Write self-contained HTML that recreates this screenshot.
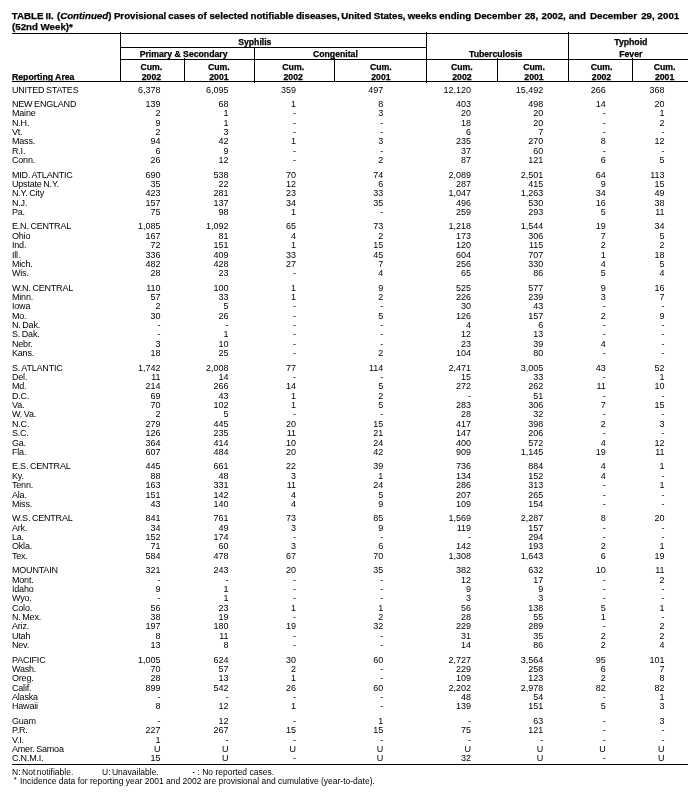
<!DOCTYPE html>
<html lang="en">
<head>
<meta charset="utf-8">
<title>TABLE II. (Continued) Provisional cases of selected notifiable diseases</title>
<style>
html,body{margin:0;padding:0;background:#fff;}
body{width:699px;height:798px;position:relative;overflow:hidden;font-family:"Liberation Sans",Arial,Helvetica,sans-serif;color:#000;}
.t{position:absolute;left:12px;white-space:nowrap;font-weight:bold;font-size:9.72px;line-height:12px;letter-spacing:0px;}
.tt,.t,.h{-webkit-text-stroke:0.25px #000;}
.tt{position:absolute;left:0;width:699px;height:12px;white-space:nowrap;font-weight:bold;font-size:9.72px;line-height:12px;}
.tt span{position:absolute;top:0;}
.h{position:absolute;white-space:nowrap;font-weight:bold;font-size:8.7px;line-height:10px;text-align:center;width:120px;}
.hl{position:absolute;background:#000;height:1px;}
.vl{position:absolute;background:#000;width:1px;}
.r{position:absolute;left:0;width:699px;height:10px;line-height:10px;font-size:9px;white-space:nowrap;}
.r span{position:absolute;top:0;}
.a{left:12px;word-spacing:-0.6px;letter-spacing:-0.2px;font-size:9px;}
.c{width:60px;text-align:right;}
.c1{left:100.50px;}
.c2{left:168.50px;}
.c3{left:236.00px;}
.c4{left:323.25px;}
.c5{left:411.00px;}
.c6{left:483.25px;}
.c7{left:545.75px;}
.c8{left:604.50px;}
.f{position:absolute;white-space:nowrap;font-size:8.5px;line-height:10px;}
</style>
</head>
<body>
<div class="tt" style="top:9.64px"><span style="left:11.7px">TABLE</span> <span style="left:45.6px">II.</span> <span style="left:56.9px">(<i>Continued</i>)</span> <span style="left:113.9px">Provisional</span> <span style="left:168.3px">cases</span> <span style="left:197.6px">of</span> <span style="left:209.4px">selected</span> <span style="left:250.5px">notifiable</span> <span style="left:295.9px">diseases,</span> <span style="left:341.2px">United</span> <span style="left:373.7px">States,</span> <span style="left:407.7px">weeks</span> <span style="left:439.3px">ending</span> <span style="left:474.2px">December</span> <span style="left:524.7px">28,</span> <span style="left:541.5px">2002,</span> <span style="left:568.7px">and</span> <span style="left:590.0px">December</span> <span style="left:641.2px">29,</span> <span style="left:657.6px">2001</span></div>
<div class="t" style="top:20.94px">(52nd Week)*</div>
<div class="hl" style="left:12px;top:33px;width:676px"></div>
<div class="hl" style="left:120px;top:47px;width:307px"></div>
<div class="hl" style="left:120px;top:59px;width:568px"></div>
<div class="hl" style="left:12px;top:81px;width:676px"></div>
<div class="hl" style="left:12px;top:764px;width:676px"></div>
<div class="vl" style="left:120px;top:32px;height:50px"></div>
<div class="vl" style="left:184px;top:58px;height:24px"></div>
<div class="vl" style="left:254px;top:47px;height:36px"></div>
<div class="vl" style="left:334px;top:58px;height:24px"></div>
<div class="vl" style="left:426px;top:32px;height:51px"></div>
<div class="vl" style="left:497px;top:58px;height:24px"></div>
<div class="vl" style="left:568px;top:32px;height:50px"></div>
<div class="vl" style="left:632px;top:58px;height:24px"></div>
<div class="h" style="left:194.80px;top:36.50px">Syphilis</div>
<div class="h" style="left:123.60px;top:49.00px">Primary &amp; Secondary</div>
<div class="h" style="left:275.40px;top:49.00px">Congenital</div>
<div class="h" style="left:435.70px;top:49.00px">Tuberculosis</div>
<div class="h" style="left:570.80px;top:36.50px">Typhoid</div>
<div class="h" style="left:570.80px;top:49.00px">Fever</div>
<div class="h" style="left:91.40px;top:61.50px">Cum.</div>
<div class="h" style="left:91.40px;top:71.50px">2002</div>
<div class="h" style="left:158.90px;top:61.50px">Cum.</div>
<div class="h" style="left:158.90px;top:71.50px">2001</div>
<div class="h" style="left:233.20px;top:61.50px">Cum.</div>
<div class="h" style="left:233.20px;top:71.50px">2002</div>
<div class="h" style="left:320.90px;top:61.50px">Cum.</div>
<div class="h" style="left:320.90px;top:71.50px">2001</div>
<div class="h" style="left:401.90px;top:61.50px">Cum.</div>
<div class="h" style="left:401.90px;top:71.50px">2002</div>
<div class="h" style="left:474.00px;top:61.50px">Cum.</div>
<div class="h" style="left:474.00px;top:71.50px">2001</div>
<div class="h" style="left:541.50px;top:61.50px">Cum.</div>
<div class="h" style="left:541.50px;top:71.50px">2002</div>
<div class="h" style="left:604.60px;top:61.50px">Cum.</div>
<div class="h" style="left:604.60px;top:71.50px">2001</div>
<div class="h" style="left:12px;top:71.50px;width:auto;text-align:left">Reporting Area</div>
<div class="r" style="top:85.00px"><span class="a">UNITED STATES</span><span class="c c1">6,378</span><span class="c c2">6,095</span><span class="c c3">359</span><span class="c c4">497</span><span class="c c5">12,120</span><span class="c c6">15,492</span><span class="c c7">266</span><span class="c c8">368</span></div>
<div class="r" style="top:99.00px"><span class="a">NEW ENGLAND</span><span class="c c1">139</span><span class="c c2">68</span><span class="c c3">1</span><span class="c c4">8</span><span class="c c5">403</span><span class="c c6">498</span><span class="c c7">14</span><span class="c c8">20</span></div>
<div class="r" style="top:108.00px"><span class="a">Maine</span><span class="c c1">2</span><span class="c c2">1</span><span class="c c3">-</span><span class="c c4">3</span><span class="c c5">20</span><span class="c c6">20</span><span class="c c7">-</span><span class="c c8">1</span></div>
<div class="r" style="top:118.00px"><span class="a">N.H.</span><span class="c c1">9</span><span class="c c2">1</span><span class="c c3">-</span><span class="c c4">-</span><span class="c c5">18</span><span class="c c6">20</span><span class="c c7">-</span><span class="c c8">2</span></div>
<div class="r" style="top:127.00px"><span class="a">Vt.</span><span class="c c1">2</span><span class="c c2">3</span><span class="c c3">-</span><span class="c c4">-</span><span class="c c5">6</span><span class="c c6">7</span><span class="c c7">-</span><span class="c c8">-</span></div>
<div class="r" style="top:136.00px"><span class="a">Mass.</span><span class="c c1">94</span><span class="c c2">42</span><span class="c c3">1</span><span class="c c4">3</span><span class="c c5">235</span><span class="c c6">270</span><span class="c c7">8</span><span class="c c8">12</span></div>
<div class="r" style="top:146.00px"><span class="a">R.I.</span><span class="c c1">6</span><span class="c c2">9</span><span class="c c3">-</span><span class="c c4">-</span><span class="c c5">37</span><span class="c c6">60</span><span class="c c7">-</span><span class="c c8">-</span></div>
<div class="r" style="top:155.00px"><span class="a">Conn.</span><span class="c c1">26</span><span class="c c2">12</span><span class="c c3">-</span><span class="c c4">2</span><span class="c c5">87</span><span class="c c6">121</span><span class="c c7">6</span><span class="c c8">5</span></div>
<div class="r" style="top:170.00px"><span class="a">MID. ATLANTIC</span><span class="c c1">690</span><span class="c c2">538</span><span class="c c3">70</span><span class="c c4">74</span><span class="c c5">2,089</span><span class="c c6">2,501</span><span class="c c7">64</span><span class="c c8">113</span></div>
<div class="r" style="top:179.00px"><span class="a">Upstate N.Y.</span><span class="c c1">35</span><span class="c c2">22</span><span class="c c3">12</span><span class="c c4">6</span><span class="c c5">287</span><span class="c c6">415</span><span class="c c7">9</span><span class="c c8">15</span></div>
<div class="r" style="top:188.00px"><span class="a">N.Y. City</span><span class="c c1">423</span><span class="c c2">281</span><span class="c c3">23</span><span class="c c4">33</span><span class="c c5">1,047</span><span class="c c6">1,263</span><span class="c c7">34</span><span class="c c8">49</span></div>
<div class="r" style="top:198.00px"><span class="a">N.J.</span><span class="c c1">157</span><span class="c c2">137</span><span class="c c3">34</span><span class="c c4">35</span><span class="c c5">496</span><span class="c c6">530</span><span class="c c7">16</span><span class="c c8">38</span></div>
<div class="r" style="top:207.00px"><span class="a">Pa.</span><span class="c c1">75</span><span class="c c2">98</span><span class="c c3">1</span><span class="c c4">-</span><span class="c c5">259</span><span class="c c6">293</span><span class="c c7">5</span><span class="c c8">11</span></div>
<div class="r" style="top:221.00px"><span class="a">E.N. CENTRAL</span><span class="c c1">1,085</span><span class="c c2">1,092</span><span class="c c3">65</span><span class="c c4">73</span><span class="c c5">1,218</span><span class="c c6">1,544</span><span class="c c7">19</span><span class="c c8">34</span></div>
<div class="r" style="top:231.00px"><span class="a">Ohio</span><span class="c c1">167</span><span class="c c2">81</span><span class="c c3">4</span><span class="c c4">2</span><span class="c c5">173</span><span class="c c6">306</span><span class="c c7">7</span><span class="c c8">5</span></div>
<div class="r" style="top:240.00px"><span class="a">Ind.</span><span class="c c1">72</span><span class="c c2">151</span><span class="c c3">1</span><span class="c c4">15</span><span class="c c5">120</span><span class="c c6">115</span><span class="c c7">2</span><span class="c c8">2</span></div>
<div class="r" style="top:250.00px"><span class="a">Ill.</span><span class="c c1">336</span><span class="c c2">409</span><span class="c c3">33</span><span class="c c4">45</span><span class="c c5">604</span><span class="c c6">707</span><span class="c c7">1</span><span class="c c8">18</span></div>
<div class="r" style="top:259.00px"><span class="a">Mich.</span><span class="c c1">482</span><span class="c c2">428</span><span class="c c3">27</span><span class="c c4">7</span><span class="c c5">256</span><span class="c c6">330</span><span class="c c7">4</span><span class="c c8">5</span></div>
<div class="r" style="top:268.00px"><span class="a">Wis.</span><span class="c c1">28</span><span class="c c2">23</span><span class="c c3">-</span><span class="c c4">4</span><span class="c c5">65</span><span class="c c6">86</span><span class="c c7">5</span><span class="c c8">4</span></div>
<div class="r" style="top:283.00px"><span class="a">W.N. CENTRAL</span><span class="c c1">110</span><span class="c c2">100</span><span class="c c3">1</span><span class="c c4">9</span><span class="c c5">525</span><span class="c c6">577</span><span class="c c7">9</span><span class="c c8">16</span></div>
<div class="r" style="top:292.00px"><span class="a">Minn.</span><span class="c c1">57</span><span class="c c2">33</span><span class="c c3">1</span><span class="c c4">2</span><span class="c c5">226</span><span class="c c6">239</span><span class="c c7">3</span><span class="c c8">7</span></div>
<div class="r" style="top:301.00px"><span class="a">Iowa</span><span class="c c1">2</span><span class="c c2">5</span><span class="c c3">-</span><span class="c c4">-</span><span class="c c5">30</span><span class="c c6">43</span><span class="c c7">-</span><span class="c c8">-</span></div>
<div class="r" style="top:311.00px"><span class="a">Mo.</span><span class="c c1">30</span><span class="c c2">26</span><span class="c c3">-</span><span class="c c4">5</span><span class="c c5">126</span><span class="c c6">157</span><span class="c c7">2</span><span class="c c8">9</span></div>
<div class="r" style="top:320.00px"><span class="a">N. Dak.</span><span class="c c1">-</span><span class="c c2">-</span><span class="c c3">-</span><span class="c c4">-</span><span class="c c5">4</span><span class="c c6">6</span><span class="c c7">-</span><span class="c c8">-</span></div>
<div class="r" style="top:329.00px"><span class="a">S. Dak.</span><span class="c c1">-</span><span class="c c2">1</span><span class="c c3">-</span><span class="c c4">-</span><span class="c c5">12</span><span class="c c6">13</span><span class="c c7">-</span><span class="c c8">-</span></div>
<div class="r" style="top:339.00px"><span class="a">Nebr.</span><span class="c c1">3</span><span class="c c2">10</span><span class="c c3">-</span><span class="c c4">-</span><span class="c c5">23</span><span class="c c6">39</span><span class="c c7">4</span><span class="c c8">-</span></div>
<div class="r" style="top:348.00px"><span class="a">Kans.</span><span class="c c1">18</span><span class="c c2">25</span><span class="c c3">-</span><span class="c c4">2</span><span class="c c5">104</span><span class="c c6">80</span><span class="c c7">-</span><span class="c c8">-</span></div>
<div class="r" style="top:363.00px"><span class="a">S. ATLANTIC</span><span class="c c1">1,742</span><span class="c c2">2,008</span><span class="c c3">77</span><span class="c c4">114</span><span class="c c5">2,471</span><span class="c c6">3,005</span><span class="c c7">43</span><span class="c c8">52</span></div>
<div class="r" style="top:372.00px"><span class="a">Del.</span><span class="c c1">11</span><span class="c c2">14</span><span class="c c3">-</span><span class="c c4">-</span><span class="c c5">15</span><span class="c c6">33</span><span class="c c7">-</span><span class="c c8">1</span></div>
<div class="r" style="top:381.00px"><span class="a">Md.</span><span class="c c1">214</span><span class="c c2">266</span><span class="c c3">14</span><span class="c c4">5</span><span class="c c5">272</span><span class="c c6">262</span><span class="c c7">11</span><span class="c c8">10</span></div>
<div class="r" style="top:391.00px"><span class="a">D.C.</span><span class="c c1">69</span><span class="c c2">43</span><span class="c c3">1</span><span class="c c4">2</span><span class="c c5">-</span><span class="c c6">51</span><span class="c c7">-</span><span class="c c8">-</span></div>
<div class="r" style="top:400.00px"><span class="a">Va.</span><span class="c c1">70</span><span class="c c2">102</span><span class="c c3">1</span><span class="c c4">5</span><span class="c c5">283</span><span class="c c6">306</span><span class="c c7">7</span><span class="c c8">15</span></div>
<div class="r" style="top:409.00px"><span class="a">W. Va.</span><span class="c c1">2</span><span class="c c2">5</span><span class="c c3">-</span><span class="c c4">-</span><span class="c c5">28</span><span class="c c6">32</span><span class="c c7">-</span><span class="c c8">-</span></div>
<div class="r" style="top:419.00px"><span class="a">N.C.</span><span class="c c1">279</span><span class="c c2">445</span><span class="c c3">20</span><span class="c c4">15</span><span class="c c5">417</span><span class="c c6">398</span><span class="c c7">2</span><span class="c c8">3</span></div>
<div class="r" style="top:428.00px"><span class="a">S.C.</span><span class="c c1">126</span><span class="c c2">235</span><span class="c c3">11</span><span class="c c4">21</span><span class="c c5">147</span><span class="c c6">206</span><span class="c c7">-</span><span class="c c8">-</span></div>
<div class="r" style="top:438.00px"><span class="a">Ga.</span><span class="c c1">364</span><span class="c c2">414</span><span class="c c3">10</span><span class="c c4">24</span><span class="c c5">400</span><span class="c c6">572</span><span class="c c7">4</span><span class="c c8">12</span></div>
<div class="r" style="top:447.00px"><span class="a">Fla.</span><span class="c c1">607</span><span class="c c2">484</span><span class="c c3">20</span><span class="c c4">42</span><span class="c c5">909</span><span class="c c6">1,145</span><span class="c c7">19</span><span class="c c8">11</span></div>
<div class="r" style="top:461.00px"><span class="a">E.S. CENTRAL</span><span class="c c1">445</span><span class="c c2">661</span><span class="c c3">22</span><span class="c c4">39</span><span class="c c5">736</span><span class="c c6">884</span><span class="c c7">4</span><span class="c c8">1</span></div>
<div class="r" style="top:471.00px"><span class="a">Ky.</span><span class="c c1">88</span><span class="c c2">48</span><span class="c c3">3</span><span class="c c4">1</span><span class="c c5">134</span><span class="c c6">152</span><span class="c c7">4</span><span class="c c8">-</span></div>
<div class="r" style="top:480.00px"><span class="a">Tenn.</span><span class="c c1">163</span><span class="c c2">331</span><span class="c c3">11</span><span class="c c4">24</span><span class="c c5">286</span><span class="c c6">313</span><span class="c c7">-</span><span class="c c8">1</span></div>
<div class="r" style="top:490.00px"><span class="a">Ala.</span><span class="c c1">151</span><span class="c c2">142</span><span class="c c3">4</span><span class="c c4">5</span><span class="c c5">207</span><span class="c c6">265</span><span class="c c7">-</span><span class="c c8">-</span></div>
<div class="r" style="top:499.00px"><span class="a">Miss.</span><span class="c c1">43</span><span class="c c2">140</span><span class="c c3">4</span><span class="c c4">9</span><span class="c c5">109</span><span class="c c6">154</span><span class="c c7">-</span><span class="c c8">-</span></div>
<div class="r" style="top:513.00px"><span class="a">W.S. CENTRAL</span><span class="c c1">841</span><span class="c c2">761</span><span class="c c3">73</span><span class="c c4">85</span><span class="c c5">1,569</span><span class="c c6">2,287</span><span class="c c7">8</span><span class="c c8">20</span></div>
<div class="r" style="top:523.00px"><span class="a">Ark.</span><span class="c c1">34</span><span class="c c2">49</span><span class="c c3">3</span><span class="c c4">9</span><span class="c c5">119</span><span class="c c6">157</span><span class="c c7">-</span><span class="c c8">-</span></div>
<div class="r" style="top:532.00px"><span class="a">La.</span><span class="c c1">152</span><span class="c c2">174</span><span class="c c3">-</span><span class="c c4">-</span><span class="c c5">-</span><span class="c c6">294</span><span class="c c7">-</span><span class="c c8">-</span></div>
<div class="r" style="top:541.00px"><span class="a">Okla.</span><span class="c c1">71</span><span class="c c2">60</span><span class="c c3">3</span><span class="c c4">6</span><span class="c c5">142</span><span class="c c6">193</span><span class="c c7">2</span><span class="c c8">1</span></div>
<div class="r" style="top:551.00px"><span class="a">Tex.</span><span class="c c1">584</span><span class="c c2">478</span><span class="c c3">67</span><span class="c c4">70</span><span class="c c5">1,308</span><span class="c c6">1,643</span><span class="c c7">6</span><span class="c c8">19</span></div>
<div class="r" style="top:565.00px"><span class="a">MOUNTAIN</span><span class="c c1">321</span><span class="c c2">243</span><span class="c c3">20</span><span class="c c4">35</span><span class="c c5">382</span><span class="c c6">632</span><span class="c c7">10</span><span class="c c8">11</span></div>
<div class="r" style="top:575.00px"><span class="a">Mont.</span><span class="c c1">-</span><span class="c c2">-</span><span class="c c3">-</span><span class="c c4">-</span><span class="c c5">12</span><span class="c c6">17</span><span class="c c7">-</span><span class="c c8">2</span></div>
<div class="r" style="top:584.00px"><span class="a">Idaho</span><span class="c c1">9</span><span class="c c2">1</span><span class="c c3">-</span><span class="c c4">-</span><span class="c c5">9</span><span class="c c6">9</span><span class="c c7">-</span><span class="c c8">-</span></div>
<div class="r" style="top:593.00px"><span class="a">Wyo.</span><span class="c c1">-</span><span class="c c2">1</span><span class="c c3">-</span><span class="c c4">-</span><span class="c c5">3</span><span class="c c6">3</span><span class="c c7">-</span><span class="c c8">-</span></div>
<div class="r" style="top:603.00px"><span class="a">Colo.</span><span class="c c1">56</span><span class="c c2">23</span><span class="c c3">1</span><span class="c c4">1</span><span class="c c5">56</span><span class="c c6">138</span><span class="c c7">5</span><span class="c c8">1</span></div>
<div class="r" style="top:612.00px"><span class="a">N. Mex.</span><span class="c c1">38</span><span class="c c2">19</span><span class="c c3">-</span><span class="c c4">2</span><span class="c c5">28</span><span class="c c6">55</span><span class="c c7">1</span><span class="c c8">-</span></div>
<div class="r" style="top:621.00px"><span class="a">Ariz.</span><span class="c c1">197</span><span class="c c2">180</span><span class="c c3">19</span><span class="c c4">32</span><span class="c c5">229</span><span class="c c6">289</span><span class="c c7">-</span><span class="c c8">2</span></div>
<div class="r" style="top:631.00px"><span class="a">Utah</span><span class="c c1">8</span><span class="c c2">11</span><span class="c c3">-</span><span class="c c4">-</span><span class="c c5">31</span><span class="c c6">35</span><span class="c c7">2</span><span class="c c8">2</span></div>
<div class="r" style="top:640.00px"><span class="a">Nev.</span><span class="c c1">13</span><span class="c c2">8</span><span class="c c3">-</span><span class="c c4">-</span><span class="c c5">14</span><span class="c c6">86</span><span class="c c7">2</span><span class="c c8">4</span></div>
<div class="r" style="top:655.00px"><span class="a">PACIFIC</span><span class="c c1">1,005</span><span class="c c2">624</span><span class="c c3">30</span><span class="c c4">60</span><span class="c c5">2,727</span><span class="c c6">3,564</span><span class="c c7">95</span><span class="c c8">101</span></div>
<div class="r" style="top:664.00px"><span class="a">Wash.</span><span class="c c1">70</span><span class="c c2">57</span><span class="c c3">2</span><span class="c c4">-</span><span class="c c5">229</span><span class="c c6">258</span><span class="c c7">6</span><span class="c c8">7</span></div>
<div class="r" style="top:673.00px"><span class="a">Oreg.</span><span class="c c1">28</span><span class="c c2">13</span><span class="c c3">1</span><span class="c c4">-</span><span class="c c5">109</span><span class="c c6">123</span><span class="c c7">2</span><span class="c c8">8</span></div>
<div class="r" style="top:683.00px"><span class="a">Calif.</span><span class="c c1">899</span><span class="c c2">542</span><span class="c c3">26</span><span class="c c4">60</span><span class="c c5">2,202</span><span class="c c6">2,978</span><span class="c c7">82</span><span class="c c8">82</span></div>
<div class="r" style="top:692.00px"><span class="a">Alaska</span><span class="c c1">-</span><span class="c c2">-</span><span class="c c3">-</span><span class="c c4">-</span><span class="c c5">48</span><span class="c c6">54</span><span class="c c7">-</span><span class="c c8">1</span></div>
<div class="r" style="top:701.00px"><span class="a">Hawaii</span><span class="c c1">8</span><span class="c c2">12</span><span class="c c3">1</span><span class="c c4">-</span><span class="c c5">139</span><span class="c c6">151</span><span class="c c7">5</span><span class="c c8">3</span></div>
<div class="r" style="top:716.00px"><span class="a">Guam</span><span class="c c1">-</span><span class="c c2">12</span><span class="c c3">-</span><span class="c c4">1</span><span class="c c5">-</span><span class="c c6">63</span><span class="c c7">-</span><span class="c c8">3</span></div>
<div class="r" style="top:725.00px"><span class="a">P.R.</span><span class="c c1">227</span><span class="c c2">267</span><span class="c c3">15</span><span class="c c4">15</span><span class="c c5">75</span><span class="c c6">121</span><span class="c c7">-</span><span class="c c8">-</span></div>
<div class="r" style="top:735.00px"><span class="a">V.I.</span><span class="c c1">1</span><span class="c c2">-</span><span class="c c3">-</span><span class="c c4">-</span><span class="c c5">-</span><span class="c c6">-</span><span class="c c7">-</span><span class="c c8">-</span></div>
<div class="r" style="top:744.00px"><span class="a">Amer. Samoa</span><span class="c c1">U</span><span class="c c2">U</span><span class="c c3">U</span><span class="c c4">U</span><span class="c c5">U</span><span class="c c6">U</span><span class="c c7">U</span><span class="c c8">U</span></div>
<div class="r" style="top:753.00px"><span class="a">C.N.M.I.</span><span class="c c1">15</span><span class="c c2">U</span><span class="c c3">-</span><span class="c c4">U</span><span class="c c5">32</span><span class="c c6">U</span><span class="c c7">-</span><span class="c c8">U</span></div>
<div class="f" style="left:12px;top:767.00px;word-spacing:-0.8px">N: Not notifiable.</div>
<div class="f" style="left:102.1px;top:767.00px;word-spacing:-1px">U: Unavailable.</div>
<div class="f" style="left:192.3px;top:767.00px">- : No reported cases.</div>
<div class="f" style="left:13.8px;top:775.00px;font-size:7.5px">*</div>
<div class="f" style="left:20px;top:776.00px">Incidence data for reporting year 2001 and 2002 are provisional and cumulative (year-to-date).</div>
</body>
</html>
